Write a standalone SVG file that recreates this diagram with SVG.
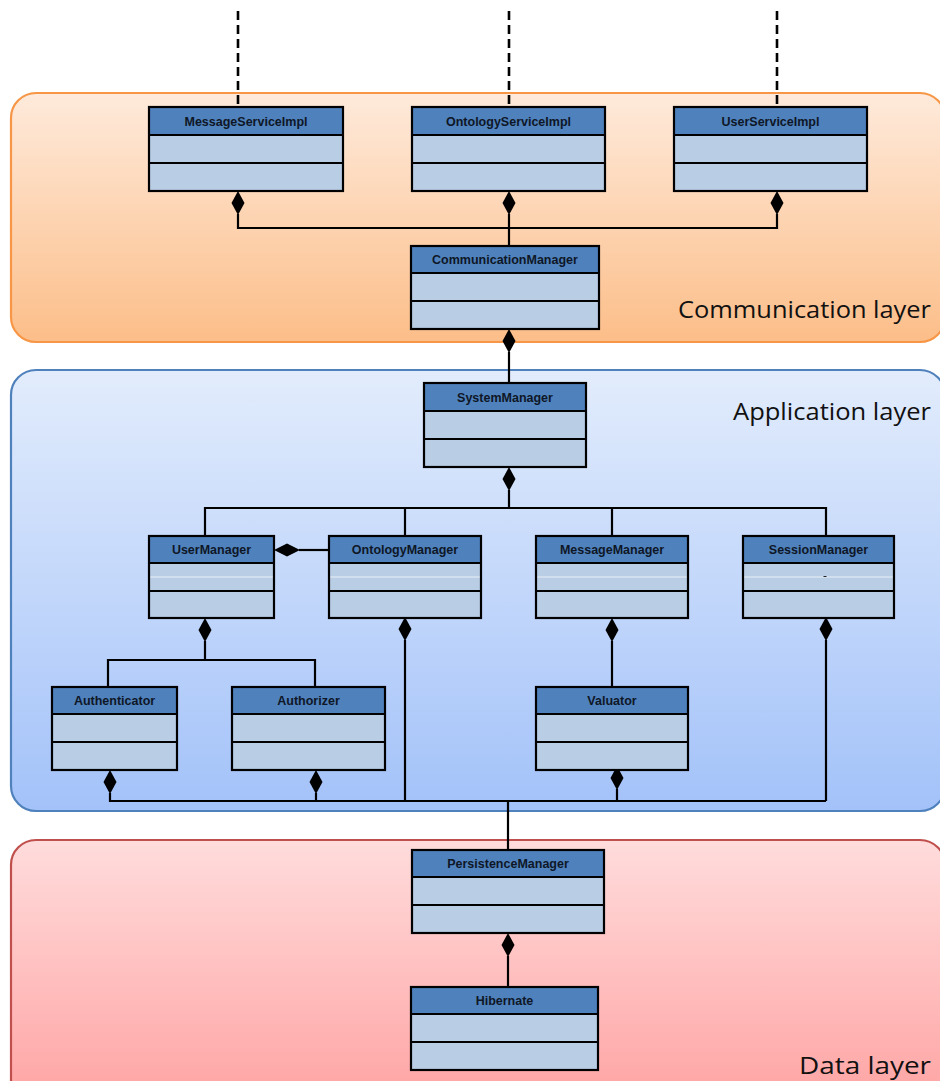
<svg xmlns="http://www.w3.org/2000/svg" width="940" height="1081" viewBox="0 0 940 1081">
  <defs>
    <linearGradient id="gComm" x1="0" y1="0" x2="0" y2="1">
      <stop offset="0" stop-color="#FEEADB"/>
      <stop offset="1" stop-color="#FCBE89"/>
    </linearGradient>
    <linearGradient id="gApp" x1="0" y1="0" x2="0" y2="1">
      <stop offset="0" stop-color="#E2ECFC"/>
      <stop offset="1" stop-color="#A3C2F9"/>
    </linearGradient>
    <linearGradient id="gData" x1="0" y1="0" x2="0" y2="1">
      <stop offset="0" stop-color="#FFDCDC"/>
      <stop offset="1" stop-color="#FFA2A2"/>
    </linearGradient>
    <path id="dia" d="M0 0 L6.5 12 L0 24 L-6.5 12 Z"/>
  </defs>
  <style>
    .layer { stroke-width: 2.2; }
    .layerLabel { font-family: "Open Sans", "Noto Sans", sans-serif; font-size: 24px; fill: #111; }
    .hdr { fill: #4F81BD; }
    .cmp { fill: #B9CDE5; }
    .frame { fill: none; stroke: #000; stroke-width: 2.2; }
    .sep { stroke: #000; stroke-width: 2.2; }
    .faint { stroke: #FFFFFF; stroke-opacity: 0.7; stroke-width: 1; }
    .name { font-family: "Liberation Sans", Arial, sans-serif; font-weight: bold; font-size: 12.5px; fill: #0E1726; text-anchor: middle; }
    .wire { fill: none; stroke: #000; stroke-width: 2.2; }
    .dash { fill: none; stroke: #000; stroke-width: 2.6; stroke-dasharray: 9 5; }
    .dm { fill: #000; }
  </style>

  <!-- layer backgrounds -->
  <g id="layers">
    <rect class="layer" x="11" y="93" width="934" height="249" rx="25" fill="url(#gComm)" stroke="#F79646"/>
    <rect class="layer" x="11" y="370" width="934" height="441" rx="25" fill="url(#gApp)" stroke="#4F81BD"/>
    <rect class="layer" x="11" y="840" width="934" height="270" rx="25" fill="url(#gData)" stroke="#C0504D"/>
    <text class="layerLabel" x="678" y="318" textLength="253" lengthAdjust="spacingAndGlyphs">Communication layer</text>
    <text class="layerLabel" x="733" y="420" textLength="198" lengthAdjust="spacingAndGlyphs">Application layer</text>
    <text class="layerLabel" x="799" y="1074" textLength="132" lengthAdjust="spacingAndGlyphs">Data layer</text>
  </g>

  <!-- connectors -->
  <g id="connectors">
    <path class="dash" d="M238 11 V107 M509 11 V107 M777 11 V107"/>
    <path class="wire" d="M238 214 V228 H777 V214 M509 214 V246"/>
    <path class="wire" d="M509 352 V383"/>
    <path class="wire" d="M509 490 V508 M205 536 V508 H826 V536 M405 508 V536 M612 508 V536"/>
    <path class="wire" d="M299 550 H329"/>
    <path class="wire" d="M205 641 V660 M108 687 V660 H315 V687"/>
    <path class="wire" d="M405 640 V801"/>
    <path class="wire" d="M612 641 V687"/>
    <path class="wire" d="M826 640 V801"/>
    <path class="wire" d="M110 793 V801 H826 M316 793 V801 M617 789 V801 M508 801 V850"/>
    <path class="wire" d="M508 956 V987"/>
    <!-- composition diamonds -->
    <use href="#dia" class="dm" x="238" y="191"/>
    <use href="#dia" class="dm" x="509" y="191"/>
    <use href="#dia" class="dm" x="777" y="191"/>
    <use href="#dia" class="dm" x="509" y="329"/>
    <use href="#dia" class="dm" x="509" y="467"/>
    <path class="dm" d="M274 550 L287 543.5 L300 550 L287 556.5 Z"/>
    <use href="#dia" class="dm" x="205" y="618"/>
    <use href="#dia" class="dm" x="405" y="617"/>
    <use href="#dia" class="dm" x="612" y="618"/>
    <use href="#dia" class="dm" x="826" y="617"/>
    <use href="#dia" class="dm" x="110" y="770"/>
    <use href="#dia" class="dm" x="316" y="770"/>
    <use href="#dia" class="dm" x="617" y="766"/>
    <use href="#dia" class="dm" x="508" y="933"/>
  </g>

  <!-- classes -->
  <g id="MessageServiceImpl">
    <rect class="hdr" x="149" y="107" width="194" height="28"/>
    <rect class="cmp" x="149" y="135" width="194" height="56"/>
    <path class="sep" d="M149 135 H343 M149 163 H343"/>
    <rect class="frame" x="149" y="107" width="194" height="84"/>
    <text class="name" x="246" y="125.5">MessageServiceImpl</text>
  </g>
  <g id="OntologyServiceImpl">
    <rect class="hdr" x="412" y="107" width="193" height="28"/>
    <rect class="cmp" x="412" y="135" width="193" height="56"/>
    <path class="sep" d="M412 135 H605 M412 163 H605"/>
    <rect class="frame" x="412" y="107" width="193" height="84"/>
    <text class="name" x="508.5" y="125.5">OntologyServiceImpl</text>
  </g>
  <g id="UserServiceImpl">
    <rect class="hdr" x="674" y="107" width="193" height="28"/>
    <rect class="cmp" x="674" y="135" width="193" height="56"/>
    <path class="sep" d="M674 135 H867 M674 163 H867"/>
    <rect class="frame" x="674" y="107" width="193" height="84"/>
    <text class="name" x="770.5" y="125.5">UserServiceImpl</text>
  </g>
  <g id="CommunicationManager">
    <rect class="hdr" x="411" y="246" width="188" height="27"/>
    <rect class="cmp" x="411" y="273" width="188" height="56"/>
    <path class="sep" d="M411 273 H599 M411 301 H599"/>
    <rect class="frame" x="411" y="246" width="188" height="83"/>
    <text class="name" x="505" y="264">CommunicationManager</text>
  </g>
  <g id="SystemManager">
    <rect class="hdr" x="424" y="383" width="162" height="28"/>
    <rect class="cmp" x="424" y="411" width="162" height="56"/>
    <path class="sep" d="M424 411 H586 M424 439 H586"/>
    <rect class="frame" x="424" y="383" width="162" height="84"/>
    <text class="name" x="505" y="401.5">SystemManager</text>
  </g>
  <g id="UserManager">
    <rect class="hdr" x="149" y="536" width="125" height="27"/>
    <rect class="cmp" x="149" y="563" width="125" height="55"/>
    <path class="faint" d="M150 577 H273"/>
    <path class="sep" d="M149 563 H274 M149 591 H274"/>
    <rect class="frame" x="149" y="536" width="125" height="82"/>
    <text class="name" x="211.5" y="554">UserManager</text>
  </g>
  <g id="OntologyManager">
    <rect class="hdr" x="329" y="536" width="152" height="27"/>
    <rect class="cmp" x="329" y="563" width="152" height="55"/>
    <path class="faint" d="M330 577 H480"/>
    <path class="sep" d="M329 563 H481 M329 591 H481"/>
    <rect class="frame" x="329" y="536" width="152" height="82"/>
    <text class="name" x="405" y="554">OntologyManager</text>
  </g>
  <g id="MessageManager">
    <rect class="hdr" x="536" y="536" width="152" height="27"/>
    <rect class="cmp" x="536" y="563" width="152" height="55"/>
    <path class="faint" d="M537 577 H687"/>
    <path class="sep" d="M536 563 H688 M536 591 H688"/>
    <rect class="frame" x="536" y="536" width="152" height="82"/>
    <text class="name" x="612" y="554">MessageManager</text>
  </g>
  <g id="SessionManager">
    <rect class="hdr" x="743" y="536" width="151" height="27"/>
    <rect class="cmp" x="743" y="563" width="151" height="55"/>
    <path class="faint" d="M744 577 H893"/>
    <path d="M823.5 576.5 H826.5" stroke="#222" stroke-width="1"/>
    <path class="sep" d="M743 563 H894 M743 591 H894"/>
    <rect class="frame" x="743" y="536" width="151" height="82"/>
    <text class="name" x="818.5" y="554">SessionManager</text>
  </g>
  <g id="Authenticator">
    <rect class="hdr" x="52" y="687" width="125" height="27"/>
    <rect class="cmp" x="52" y="714" width="125" height="56"/>
    <path class="sep" d="M52 714 H177 M52 742 H177"/>
    <rect class="frame" x="52" y="687" width="125" height="83"/>
    <text class="name" x="114.5" y="705">Authenticator</text>
  </g>
  <g id="Authorizer">
    <rect class="hdr" x="232" y="687" width="153" height="27"/>
    <rect class="cmp" x="232" y="714" width="153" height="56"/>
    <path class="sep" d="M232 714 H385 M232 742 H385"/>
    <rect class="frame" x="232" y="687" width="153" height="83"/>
    <text class="name" x="308.5" y="705">Authorizer</text>
  </g>
  <g id="Valuator">
    <rect class="hdr" x="536" y="687" width="152" height="27"/>
    <rect class="cmp" x="536" y="714" width="152" height="56"/>
    <path class="sep" d="M536 714 H688 M536 742 H688"/>
    <rect class="frame" x="536" y="687" width="152" height="83"/>
    <text class="name" x="612" y="705">Valuator</text>
  </g>
  <g id="PersistenceManager">
    <rect class="hdr" x="412" y="850" width="192" height="27"/>
    <rect class="cmp" x="412" y="877" width="192" height="56"/>
    <path class="sep" d="M412 877 H604 M412 905 H604"/>
    <rect class="frame" x="412" y="850" width="192" height="83"/>
    <text class="name" x="508" y="868">PersistenceManager</text>
  </g>
  <g id="Hibernate">
    <rect class="hdr" x="411" y="987" width="187" height="27"/>
    <rect class="cmp" x="411" y="1014" width="187" height="56"/>
    <path class="sep" d="M411 1014 H598 M411 1042 H598"/>
    <rect class="frame" x="411" y="987" width="187" height="83"/>
    <text class="name" x="504.5" y="1005">Hibernate</text>
  </g>
</svg>
